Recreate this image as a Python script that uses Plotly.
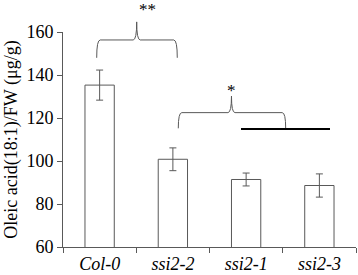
import plotly.graph_objects as go

categories = ["Col-0", "ssi2-2", "ssi2-1", "ssi2-3"]
values = [135.3, 100.8, 91.4, 88.6]
errors = [7.0, 5.3, 3.0, 5.4]
y_ticks = [60, 80, 100, 120, 140, 160]

W, H = 358, 275
L, R, T, B = 63, 2, 32, 28
YMIN, YMAX = 60, 160
grey = "#595959"
font_family = "Liberation Serif, Times New Roman, serif"

def xp(idx):
    return (idx + 0.5) / len(categories)

def yp(v):
    return (v - YMIN) / (YMAX - YMIN)

def brace(xl, xr, xpk, yb, yh, ypk):
    dx = 0.012
    return (f"M {xp(xl)},{yp(yb)} Q {xp(xl)},{yp(yh)} {xp(xl)+dx},{yp(yh)} "
            f"L {xp(xpk)-dx},{yp(yh)} Q {xp(xpk)},{yp(yh)} {xp(xpk)},{yp(ypk)} "
            f"Q {xp(xpk)},{yp(yh)} {xp(xpk)+dx},{yp(yh)} "
            f"L {xp(xr)-dx},{yp(yh)} Q {xp(xr)},{yp(yh)} {xp(xr)},{yp(yb)}")

fig = go.Figure(go.Bar(
    x=categories, y=values, width=0.4,
    marker=dict(color="white", line=dict(color=grey, width=1)),
    error_y=dict(type="data", array=errors, color=grey, thickness=1, width=3.5),
))

shapes = [
    dict(type="path", xref="paper", yref="paper",
         path=brace(-0.04, 1.06, 0.506, 148.0, 156.3, 164.7),
         line=dict(color=grey, width=1)),
    dict(type="path", xref="paper", yref="paper",
         path=brace(1.074, 2.54, 1.80, 115.2, 122.5, 130.2),
         line=dict(color=grey, width=1)),
    dict(type="line", xref="paper", yref="paper",
         x0=xp(1.93), x1=xp(3.145), y0=yp(114.9), y1=yp(114.9),
         line=dict(color="black", width=2)),
]

annotations = [
    dict(text="**", xref="paper", yref="paper", x=xp(0.506), y=yp(176.0),
         showarrow=False, font=dict(size=17, family=font_family, color="black")),
    dict(text="*", xref="paper", yref="paper", x=xp(1.80), y=yp(138.3),
         showarrow=False, font=dict(size=17, family=font_family, color="black")),
]

fig.update_layout(
    width=W, height=H,
    margin=dict(l=L, r=R, t=T, b=B),
    plot_bgcolor="white", paper_bgcolor="white",
    showlegend=False,
    shapes=shapes, annotations=annotations,
    font=dict(family=font_family, size=18, color="black"),
    xaxis=dict(
        tickmode="array", tickvals=categories,
        ticktext=[f"<i>{c}</i>" for c in categories],
        tickson="boundaries", ticks="outside", ticklen=5, tickcolor=grey,
        showline=True, linecolor=grey, linewidth=1,
        showgrid=False, tickfont=dict(size=18, family=font_family),
    ),
    yaxis=dict(
        range=[YMIN, YMAX], tickvals=y_ticks,
        ticks="outside", ticklen=5, tickcolor=grey,
        showline=True, linecolor=grey, linewidth=1,
        showgrid=False, zeroline=False,
        tickfont=dict(size=18, family=font_family),
        title=dict(text="Oleic acid(18:1)/FW (μg/g)", standoff=4,
                   font=dict(size=18, family=font_family)),
    ),
)

fig.write_html("out.html",
               config={"displayModeBar": False},
               post_script="document.body.style.margin='0';document.body.style.padding='0';")
